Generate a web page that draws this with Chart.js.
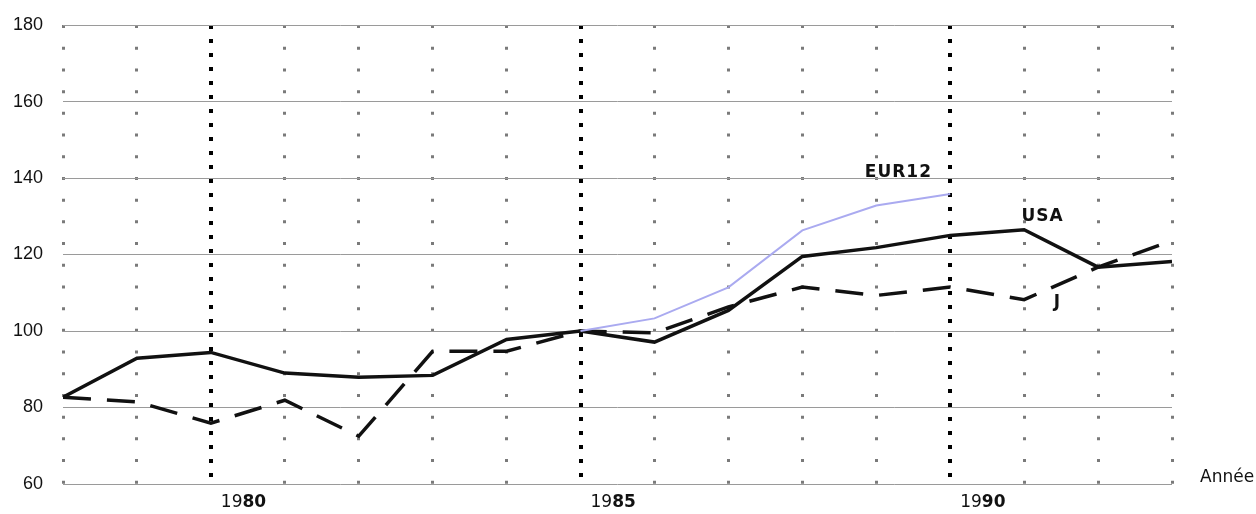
<!DOCTYPE html>
<html>
<head>
<meta charset="utf-8">
<script src="https://cdn.jsdelivr.net/npm/chart.js@4"></script>
<style>
  html, body { margin: 0; padding: 0; background: #fff; }
  #wrap { width: 1256px; height: 514px; }
</style>
</head>
<body>
<div id="wrap"><canvas id="myChart" width="1256" height="514"></canvas></div>
<script>
// data (index, 1985 = 100)
const years = [1978, 1979, 1980, 1981, 1982, 1983, 1984, 1985, 1986, 1987, 1988, 1989, 1990, 1991, 1992, 1993];
const usa   = [82.7, 92.9, 94.4, 89.0, 87.9, 88.4, 97.8, 100, 97.1, 105.4, 119.5, 121.8, 125.0, 126.5, 116.7, 118.2];
const japan = [82.7, 81.5, 75.9, 81.9, 72.5, 94.7, 94.7, 100, 99.5, 106.3, 111.5, 109.3, 111.5, 108.2, 116.7, 123.6];
const eur12 = [null, null, null, null, null, null, null, 100, 103.3, 111.4, 126.3, 132.8, 135.8, null, null, null];
const majorYears = [1980, 1985, 1990];
const yTicks = [60, 80, 100, 120, 140, 160, 180];

const FONT = "'Liberation Sans', Arial, sans-serif";
const WIDE = "'DejaVu Sans', sans-serif";

function pts(arr) {
    return years.map((yr, i) => ({ x: yr, y: arr[i] }));
}

// series name labels, x year labels and the axis title
const labelPlugin = {
    id: 'labels',
    afterDraw(chart) {
        const ctx = chart.ctx;
        const xs = chart.scales.x, ys = chart.scales.y;
        ctx.save();
        ctx.fillStyle = '#111';
        ctx.textBaseline = 'middle';
        ctx.textAlign = 'center';
        ctx.font = 'bold 17px ' + WIDE;
        ctx.letterSpacing = '1px';
        ctx.fillText('EUR12', xs.getPixelForValue(1989.3), ys.getPixelForValue(141.4));
        ctx.fillText('USA', xs.getPixelForValue(1991.25), ys.getPixelForValue(130.0));
        ctx.fillText('J', xs.getPixelForValue(1991.45), ys.getPixelForValue(107.5));
        ctx.letterSpacing = '0px';

        // "19" regular + "80" bold
        ctx.textAlign = 'left';
        const ty = chart.chartArea.bottom + 19;
        majorYears.forEach(yr => {
            const s = String(yr);
            let x = xs.getPixelForValue(yr) + 10;
            ctx.font = '17px ' + WIDE;
            ctx.fillText(s.slice(0, 2), x, ty);
            x += ctx.measureText(s.slice(0, 2)).width;
            ctx.font = 'bold 17px ' + WIDE;
            ctx.fillText(s.slice(2), x, ty);
        });

        ctx.font = '17px ' + WIDE;
        ctx.fillText('Année', chart.chartArea.right + 28, chart.chartArea.bottom - 6);
        ctx.restore();
    }
};

new Chart(document.getElementById('myChart').getContext('2d'), {
    type: 'line',
    data: {
        datasets: [
            {
                label: 'EUR12',
                data: pts(eur12),
                borderColor: '#aaaaf0',
                borderWidth: 2,
            },
            {
                label: 'USA',
                data: pts(usa),
                borderColor: '#111',
                borderWidth: 3.5,
            },
            {
                label: 'J',
                data: pts(japan),
                borderColor: '#111',
                borderWidth: 3.5,
                borderDash: [28, 16],
            },
        ]
    },
    options: {
        responsive: false,
        animation: false,
        spanGaps: false,
        elements: { point: { radius: 0 }, line: { tension: 0 } },
        layout: { padding: { top: 10, right: 84, bottom: 0, left: 0 } },
        plugins: { legend: { display: false }, tooltip: { enabled: false } },
        scales: {
            x: {
                type: 'linear',
                min: 1978,
                max: 1993,
                ticks: { display: false, stepSize: 1 },
                afterFit(scale) { scale.height = 30; },
                border: {
                    display: false,
                    dash: c => majorYears.includes(c.tick && c.tick.value) ? [4, 10] : [3, 18.7],
                },
                grid: {
                    drawTicks: false,
                    color: c => majorYears.includes(c.tick && c.tick.value) ? '#000' : '#7a7a7a',
                    lineWidth: c => majorYears.includes(c.tick && c.tick.value) ? 4 : 3,
                },
            },
            y: {
                min: 60,
                max: 180,
                afterBuildTicks(scale) { scale.ticks = yTicks.map(v => ({ value: v })); },
                afterFit(scale) { scale.width = 63; },
                ticks: {
                    padding: 20,
                    color: '#111',
                    font: { family: FONT, size: 18, lineHeight: 0.56 },
                },
                border: { display: false },
                grid: { drawTicks: false, color: '#9a9a9a', lineWidth: 1 },
            },
        }
    },
    plugins: [labelPlugin]
});
</script>
</body>
</html>
